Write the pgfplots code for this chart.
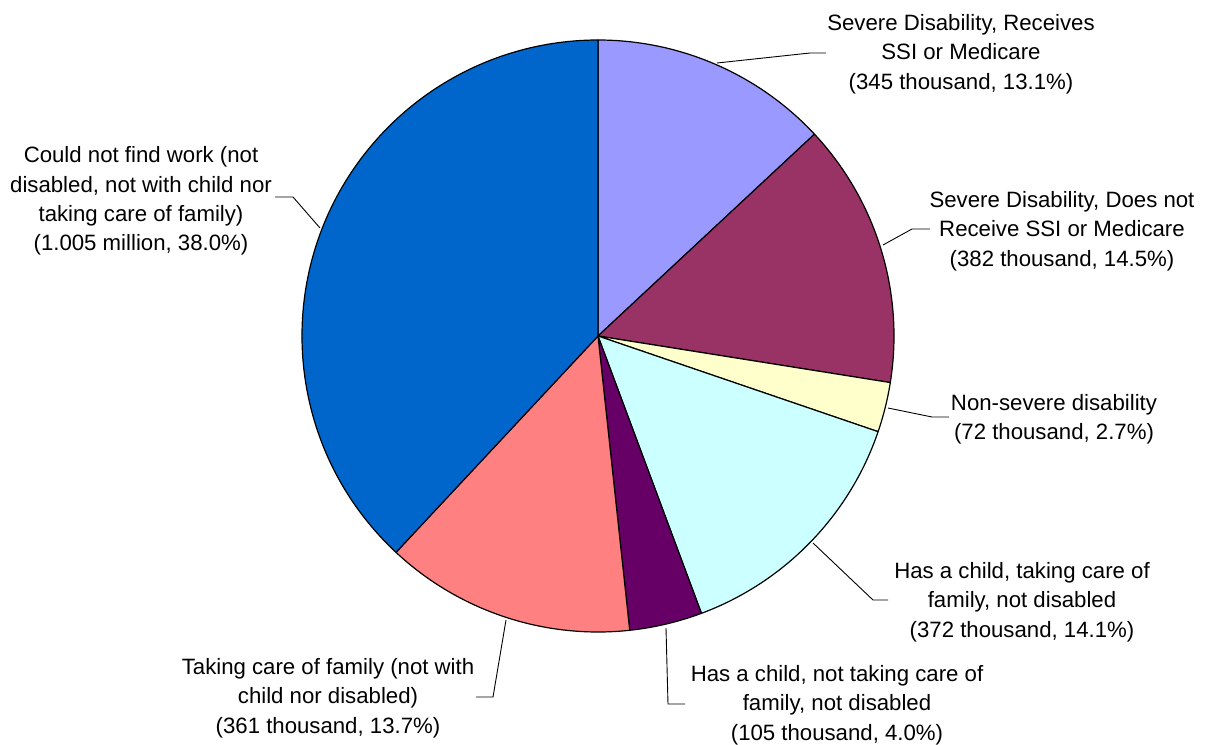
\documentclass[border=0pt]{standalone}
\usepackage{pgfplots}
\pgfplotsset{compat=1.18}
\usepackage{fontspec}
\setmainfont{Liberation Sans}
\definecolor{c1}{HTML}{9999FF}
\definecolor{c2}{HTML}{993366}
\definecolor{c3}{HTML}{FFFFCC}
\definecolor{c4}{HTML}{CCFFFF}
\definecolor{c5}{HTML}{660066}
\definecolor{c6}{HTML}{FF8080}
\definecolor{c7}{HTML}{0066CC}
% values in thousands
\def\vA{345}\def\vB{382}\def\vC{72}\def\vD{372}\def\vE{105}\def\vF{361}\def\vG{1005}
\begin{document}
\begin{tikzpicture}
\pgfmathsetmacro\total{\vA+\vB+\vC+\vD+\vE+\vF+\vG}
\pgfmathsetmacro\aA{90}
\pgfmathsetmacro\aB{\aA-360*(\vA/\total)}
\pgfmathsetmacro\aC{\aB-360*(\vB/\total)}
\pgfmathsetmacro\aD{\aC-360*(\vC/\total)}
\pgfmathsetmacro\aE{\aD-360*(\vD/\total)}
\pgfmathsetmacro\aF{\aE-360*(\vE/\total)}
\pgfmathsetmacro\aG{\aF-360*(\vF/\total)}
\pgfmathsetmacro\aH{-270}
\begin{axis}[hide axis, scale only axis, width=602.5pt, height=371.5pt,
  xmin=0, xmax=1205, ymin=0, ymax=743, y dir=reverse, clip=false]
\path (rel axis cs:0,0) rectangle (rel axis cs:1,1);
\def\R{148pt}
\tikzset{sl/.style={draw=black, line width=0.6pt, line join=round}}
\filldraw[sl, fill=c1] (axis cs:598,336) -- ++(\aA:\R) arc[start angle=\aA, end angle=\aB, radius=\R] -- cycle;
\filldraw[sl, fill=c2] (axis cs:598,336) -- ++(\aB:\R) arc[start angle=\aB, end angle=\aC, radius=\R] -- cycle;
\filldraw[sl, fill=c3] (axis cs:598,336) -- ++(\aC:\R) arc[start angle=\aC, end angle=\aD, radius=\R] -- cycle;
\filldraw[sl, fill=c4] (axis cs:598,336) -- ++(\aD:\R) arc[start angle=\aD, end angle=\aE, radius=\R] -- cycle;
\filldraw[sl, fill=c5] (axis cs:598,336) -- ++(\aE:\R) arc[start angle=\aE, end angle=\aF, radius=\R] -- cycle;
\filldraw[sl, fill=c6] (axis cs:598,336) -- ++(\aF:\R) arc[start angle=\aF, end angle=\aG, radius=\R] -- cycle;
\filldraw[sl, fill=c7] (axis cs:598,336) -- ++(\aG:\R) arc[start angle=\aG, end angle=\aH, radius=\R] -- cycle;
% leader lines
\tikzset{ld/.style={draw=black, line width=0.45pt}}
\draw[ld] (axis cs:717,63) -- (axis cs:810,53) -- (axis cs:826,53);
\draw[ld] (axis cs:883,245) -- (axis cs:912,229) -- (axis cs:930,229);
\draw[ld] (axis cs:888,408) -- (axis cs:932,417) -- (axis cs:949,417);
\draw[ld] (axis cs:813,543) -- (axis cs:873,600) -- (axis cs:888,600);
\draw[ld] (axis cs:666,628) -- (axis cs:668,704) -- (axis cs:685,704);
\draw[ld] (axis cs:506,620) -- (axis cs:493,697) -- (axis cs:476,697);
\draw[ld] (axis cs:320,228) -- (axis cs:293,197) -- (axis cs:275,197);
% labels
\tikzset{lb/.style={align=center, inner sep=0pt, font=\fontsize{11.1}{14.7}\selectfont}}
\node[lb] at (axis cs:961,54) {Severe Disability, Receives\\SSI or Medicare\\(345 thousand, 13.1\%)};
\node[lb] at (axis cs:1062,231) {Severe Disability, Does not\\Receive SSI or Medicare\\(382 thousand, 14.5\%)};
\node[lb] at (axis cs:1054,419) {Non-severe disability\\(72 thousand, 2.7\%)};
\node[lb] at (axis cs:1022,602) {Has a child, taking care of\\family, not disabled\\(372 thousand, 14.1\%)};
\node[lb] at (axis cs:837,705) {Has a child, not taking care of\\family, not disabled\\(105 thousand, 4.0\%)};
\node[lb] at (axis cs:328,698) {Taking care of family (not with\\child nor disabled)\\(361 thousand, 13.7\%)};
\node[lb] at (axis cs:141,201) {Could not find work (not\\disabled, not with child nor\\taking care of family)\\(1.005 million, 38.0\%)};
\end{axis}
\end{tikzpicture}
\end{document}
